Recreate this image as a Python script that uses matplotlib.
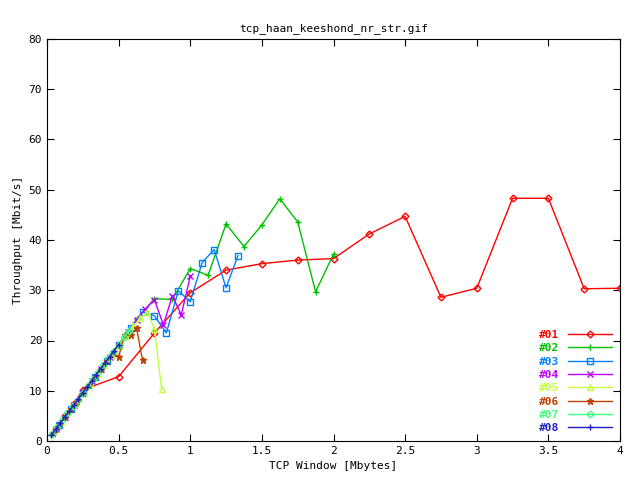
import matplotlib
matplotlib.use("Agg")
import matplotlib.pyplot as plt

# window sizes (Mbytes) and throughput (Mbit/s) per run
x01 = [0.0625, 0.125, 0.1875, 0.25, 0.5, 0.75, 1.0, 1.25, 1.5, 1.75, 2.0, 2.25, 2.5, 2.75, 3.0, 3.25, 3.5, 3.75, 4.0]
y01 = [2.4, 4.9, 7.4, 10.2, 12.8, 21.5, 29.5, 34.0, 35.3, 36.0, 36.3, 41.2, 44.7, 28.6, 30.4, 48.3, 48.3, 30.3, 30.4]
x02 = [0.125, 0.25, 0.375, 0.5, 0.625, 0.75, 0.875, 1.0, 1.125, 1.25, 1.375, 1.5, 1.625, 1.75, 1.875, 2.0]
y02 = [4.8, 9.6, 14.3, 19.0, 24.2, 28.3, 28.2, 34.3, 33.0, 43.2, 38.7, 43.0, 48.2, 43.6, 29.7, 37.2]
x03 = [0.083, 0.167, 0.25, 0.333, 0.417, 0.5, 0.583, 0.667, 0.75, 0.833, 0.917, 1.0, 1.083, 1.167, 1.25, 1.333]
y03 = [3.2, 6.4, 9.5, 12.7, 15.9, 19.1, 22.5, 25.7, 24.9, 21.5, 29.9, 27.7, 35.5, 38.1, 30.5, 36.9]
x04 = [0.0625, 0.125, 0.1875, 0.25, 0.3125, 0.375, 0.4375, 0.5, 0.5625, 0.625, 0.6875, 0.75, 0.8125, 0.875, 0.9375, 1.0]
y04 = [2.4, 4.8, 7.2, 9.6, 12.0, 14.4, 16.8, 19.2, 21.6, 24.0, 26.3, 28.1, 23.1, 28.9, 25.1, 32.8]
x05 = [0.05, 0.1, 0.15, 0.2, 0.25, 0.3, 0.35, 0.4, 0.45, 0.5, 0.55, 0.6, 0.65, 0.7, 0.75, 0.8]
y05 = [1.9, 3.8, 5.7, 7.6, 9.5, 11.4, 13.3, 15.2, 17.1, 19.0, 20.9, 22.8, 24.4, 25.6, 22.3, 10.4]
x06 = [0.042, 0.083, 0.125, 0.167, 0.208, 0.25, 0.292, 0.333, 0.375, 0.417, 0.458, 0.5, 0.542, 0.583, 0.625, 0.667]
y06 = [1.6, 3.2, 4.8, 6.4, 8.0, 9.6, 11.2, 12.8, 14.4, 16.0, 17.5, 16.8, 21.0, 21.0, 22.5, 16.1]
x07 = [0.036, 0.071, 0.107, 0.143, 0.179, 0.214, 0.25, 0.286, 0.321, 0.357, 0.393, 0.429, 0.464, 0.5, 0.536, 0.571]
y07 = [1.4, 2.7, 4.1, 5.5, 6.9, 8.2, 9.6, 11.0, 12.3, 13.7, 15.1, 16.5, 17.8, 19.2, 20.6, 21.9]
x08 = [0.031, 0.0625, 0.094, 0.125, 0.156, 0.1875, 0.219, 0.25, 0.281, 0.3125, 0.344, 0.375, 0.406, 0.4375, 0.469, 0.5]
y08 = [1.2, 2.4, 3.6, 4.8, 6.0, 7.2, 8.4, 9.6, 10.8, 12.0, 13.2, 14.4, 15.6, 16.8, 18.0, 19.2]

series = [
    ("#01", x01, y01, "#ff0000", "D"),
    ("#02", x02, y02, "#00c000", "+"),
    ("#03", x03, y03, "#0080ff", "s"),
    ("#04", x04, y04, "#c000ff", "x"),
    ("#05", x05, y05, "#c0ff40", "^"),
    ("#06", x06, y06, "#c04000", "*"),
    ("#07", x07, y07, "#40ff80", "D"),
    ("#08", x08, y08, "#2020c0", "+"),
]

plt.rcParams["font.family"] = "DejaVu Sans Mono"
plt.rcParams["font.size"] = 8

fig = plt.figure(figsize=(6.4, 4.8), dpi=100)
ax = fig.add_axes([47 / 640, 39 / 480, 573 / 640, 402 / 480])

for name, xs, ys, col, mk in series:
    filled = mk in ("+", "x", "*")
    ax.plot(xs, ys, color=col, lw=1, marker=mk, ms=5 if mk != "D" else 3.5,
            mfc=col if filled else "none", mec=col, mew=1, label=name)

ax.set_xlim(0, 4)
ax.set_ylim(0, 80)
ax.set_xticks([0, 0.5, 1, 1.5, 2, 2.5, 3, 3.5, 4])
ax.set_xticklabels(["0", "0.5", "1", "1.5", "2", "2.5", "3", "3.5", "4"])
ax.set_yticks(range(0, 81, 10))
ax.tick_params(direction="in", top=True, right=True, length=5)
ax.set_xlabel("TCP Window [Mbytes]")
ax.set_ylabel("Throughput [Mbit/s]")
ax.set_title("tcp_haan_keeshond_nr_str.gif", fontsize=8)

leg = ax.legend(loc="lower right", frameon=False, markerfirst=False,
                labelcolor="linecolor", handlelength=4, labelspacing=0.3,
                borderaxespad=0.3, prop={"weight": "bold", "size": 8})

fig.savefig("out.png", dpi=100)
